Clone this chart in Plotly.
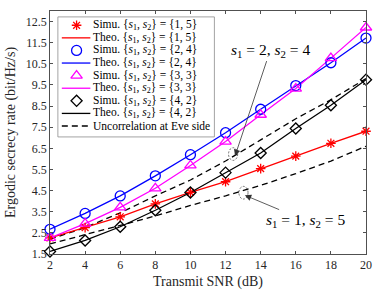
import plotly.graph_objects as go

# ---------------- data ----------------
snr_db = [2, 4, 6, 8, 10, 12, 14, 16, 18, 20]
rate_15 = [2.26, 2.75, 3.26, 3.87, 4.42, 4.92, 5.54, 6.13, 6.74, 7.31]
rate_24 = [2.67, 3.42, 4.25, 5.20, 6.20, 7.24, 8.35, 9.47, 10.55, 11.72]
rate_33 = [2.26, 2.94, 3.71, 4.61, 5.69, 6.82, 8.09, 9.33, 10.77, 12.22]
rate_42 = [1.62, 2.14, 2.79, 3.57, 4.41, 5.35, 6.28, 7.44, 8.54, 9.75]
uncorr_24 = [2.20, 2.75, 3.45, 4.25, 5.00, 5.90, 6.90, 7.90, 8.80, 9.80]
uncorr_15 = [1.98, 2.40, 2.85, 3.30, 3.80, 4.25, 4.75, 5.30, 5.90, 6.60]

x_ticks = [2, 4, 6, 8, 10, 12, 14, 16, 18, 20]
y_ticks = [1.5, 2.5, 3.5, 4.5, 5.5, 6.5, 7.5, 8.5, 9.5, 10.5, 11.5, 12.5]

x_title = "Transmit SNR (dB)"
y_title = "Ergodic secrecy rate (bit/Hz/s)"

# ---------------- layout constants ----------------
W, H = 382, 296
ML, MR, MT, MB = 50, 11, 10, 39
PW, PH = W - ML - MR, H - MT - MB
FONT = "Liberation Serif, Times New Roman, serif"
LW = 1.3

RED, BLUE, MAG, BLK = "#FF0000", "#0000FF", "#FF00FF", "#000000"
S = "{<i>s</i><sub>1</sub>, <i>s</i><sub>2</sub>}"

series = [
    ("Simu. " + S + " = {1, 5}", rate_15, RED, "asterisk-open", 8),
    ("Theo. " + S + " = {1, 5}", rate_15, RED, None, None),
    ("Simu. " + S + " = {2, 4}", rate_24, BLUE, "circle-open", 10),
    ("Theo. " + S + " = {2, 4}", rate_24, BLUE, None, None),
    ("Simu. " + S + " = {3, 3}", rate_33, MAG, "triangle-up-open", 10),
    ("Theo. " + S + " = {3, 3}", rate_33, MAG, None, None),
    ("Simu. " + S + " = {4, 2}", rate_42, BLK, "diamond-open", 8.5),
    ("Theo. " + S + " = {4, 2}", rate_42, BLK, None, None),
]

fig = go.Figure()

# dashed uncorrelated curves
for vals in (uncorr_24, uncorr_15):
    fig.add_trace(go.Scatter(x=snr_db, y=vals, mode="lines",
                             line=dict(color=BLK, width=LW, dash="6px,4px"),
                             showlegend=False, hoverinfo="skip"))

# theoretical lines then simulation markers
for name, vals, col, sym, size in series:
    if sym is None:
        fig.add_trace(go.Scatter(x=snr_db, y=vals, mode="lines",
                                 line=dict(color=col, width=LW),
                                 showlegend=False))
for name, vals, col, sym, size in series:
    if sym is not None:
        fig.add_trace(go.Scatter(x=snr_db, y=vals, mode="markers",
                                 marker=dict(symbol=sym, size=size, color=col,
                                             line=dict(color=col, width=LW)),
                                 showlegend=False, cliponaxis=False))

# ---------------- hand-built legend (pixel layout) ----------------
LEG_X0, LEG_X1, LEG_Y0, LEG_Y1 = 58, 217, 16, 138
ROW0, ROW_DY = 24.5, 12.8
SAMP_X0, SAMP_X1, SAMP_XC, TEXT_X = 62, 91, 77, 93

def pxx(px):
    return (px - ML) / PW

def pxy(py):
    return (H - MB - py) / PH

shapes = [dict(type="rect", xref="paper", yref="paper",
               x0=pxx(LEG_X0), x1=pxx(LEG_X1), y0=pxy(LEG_Y1), y1=pxy(LEG_Y0),
               line=dict(color="#8c8c8c", width=0.8), fillcolor="white",
               layer="below")]
annotations = []
legend_rows = [(n, c, s, z, None) for (n, v, c, s, z) in series]
legend_rows.append(("Uncorrelation at Eve side", BLK, None, None, "6px,4px"))

for i, (name, col, sym, size, dash) in enumerate(legend_rows):
    yy = ROW0 + i * ROW_DY
    if sym is None:
        shapes.append(dict(type="line", xref="paper", yref="paper",
                           x0=pxx(SAMP_X0), x1=pxx(SAMP_X1), y0=pxy(yy), y1=pxy(yy),
                           line=dict(color=col, width=LW, dash=dash or "solid"),
                           layer="above"))
    else:
        fig.add_trace(go.Scatter(x=[SAMP_XC - ML], y=[H - MB - yy], xaxis="x2", yaxis="y2",
                                 mode="markers",
                                 marker=dict(symbol=sym, size=size, color=col,
                                             line=dict(color=col, width=LW)),
                                 showlegend=False, cliponaxis=False, hoverinfo="skip"))
    annotations.append(dict(xref="paper", yref="paper", x=pxx(TEXT_X), y=pxy(yy),
                            xanchor="left", yanchor="middle", showarrow=False,
                            borderpad=0,
                            text=name, font=dict(family=FONT, size=11.5, color="black")))

# ---------------- callouts ----------------
callouts = [
    ("<i>s</i><sub>1</sub> = 2, <i>s</i><sub>2</sub> = 4", 12.54, 6.14, 14.55, 11.15, 12.43, 6.23),
    ("<i>s</i><sub>1</sub> = 1, <i>s</i><sub>2</sub> = 5", 13.10, 4.28, 16.55, 3.08, 13.02, 4.40),
]
for text, tx, ty, ax, ay, ex, ey in callouts:
    annotations.append(dict(x=tx, y=ty, ax=ax, ay=ay, xref="x", yref="y",
                            axref="x", ayref="y", text=text, showarrow=True,
                            arrowhead=2, arrowsize=1.6, arrowwidth=0.8,
                            arrowcolor="#333333",
                            font=dict(family=FONT, size=15.5, color="black")))
    shapes.append(dict(type="circle", xref="x", yref="y",
                       x0=ex - 0.26, x1=ex + 0.26, y0=ey - 0.30, y1=ey + 0.30,
                       line=dict(color="#333333", width=0.7, dash="2px,1.5px")))

axis_common = dict(showgrid=False, zeroline=False, showline=True, mirror="ticks",
                   linecolor="#505050", linewidth=0.8, ticks="inside", ticklen=3,
                   tickcolor="#505050", tickwidth=0.8,
                   tickfont=dict(family=FONT, size=12, color="#262626"))

fig.update_layout(
    width=W, height=H,
    margin=dict(l=ML, r=MR, t=MT, b=MB, pad=0),
    paper_bgcolor="white", plot_bgcolor="white",
    showlegend=False,
    font=dict(family=FONT, size=12, color="#262626"),
    xaxis=dict(range=[2, 20], tickvals=x_ticks, ticktext=[str(v) for v in x_ticks],
               title=dict(text=x_title, font=dict(family=FONT, size=14, color="#262626"),
                          standoff=4),
               **axis_common),
    yaxis=dict(range=[1.5, 13], tickvals=y_ticks, ticktext=[str(v) for v in y_ticks],
               title=dict(text=y_title, font=dict(family=FONT, size=14, color="#262626"),
                          standoff=6),
               **axis_common),
    xaxis2=dict(range=[0, PW], overlaying="x", visible=False, fixedrange=True),
    yaxis2=dict(range=[0, PH], overlaying="y", visible=False, fixedrange=True),
    shapes=shapes,
    annotations=annotations,
)

fig.write_html("out.html", config={"displayModeBar": False},
               post_script="document.body.style.margin='0px';")
